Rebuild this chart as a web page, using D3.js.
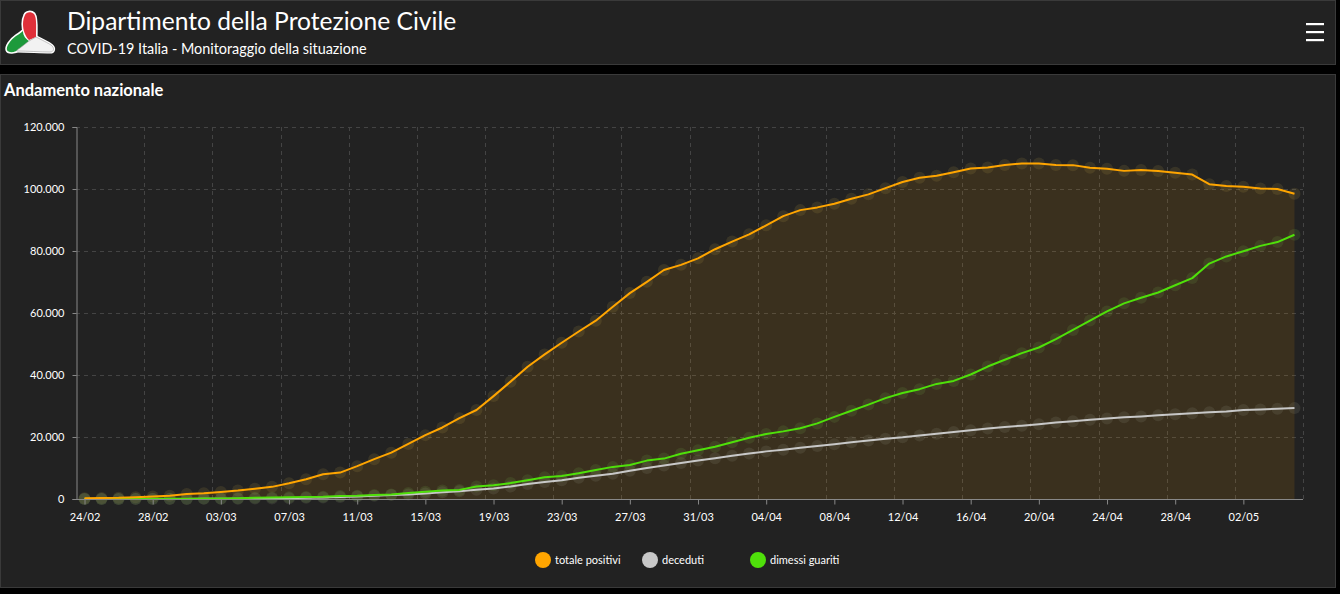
<!DOCTYPE html>
<html><head><meta charset="utf-8">
<script src="https://cdn.jsdelivr.net/npm/d3@7"></script>
<style>
html,body{margin:0;padding:0;background:#000;width:1340px;height:594px;overflow:hidden;font-family:Lato,"Open Sans",sans-serif;}
</style></head>
<body>
<svg id="c" width="1340" height="594"></svg>
<script>
const dates = ["24/02","25/02","26/02","27/02","28/02","29/02","01/03","02/03","03/03","04/03","05/03","06/03","07/03","08/03","09/03","10/03","11/03","12/03","13/03","14/03","15/03","16/03","17/03","18/03","19/03","20/03","21/03","22/03","23/03","24/03","25/03","26/03","27/03","28/03","29/03","30/03","31/03","01/04","02/04","03/04","04/04","05/04","06/04","07/04","08/04","09/04","10/04","11/04","12/04","13/04","14/04","15/04","16/04","17/04","18/04","19/04","20/04","21/04","22/04","23/04","24/04","25/04","26/04","27/04","28/04","29/04","30/04","01/05","02/05","03/05","04/05","05/05"];
const totalePositivi = [221,311,385,588,821,1049,1577,1835,2263,2706,3296,3916,5061,6387,7985,8514,10590,12839,14955,17750,20603,23073,26062,28710,33190,37860,42681,46638,50418,54030,57521,62013,66414,70065,73880,75528,77635,80572,83049,85388,88274,91246,93187,94067,95262,96877,98273,100269,102253,103616,104291,105418,106607,106962,107771,108257,108237,107709,107699,106848,106527,105847,106103,105813,105205,104657,101551,100943,100704,100179,99980,98467];
const deceduti = [7,10,12,17,21,29,34,52,79,107,148,197,233,366,463,631,827,1016,1266,1441,1809,2158,2503,2978,3405,4032,4825,5476,6077,6820,7503,8165,9134,10023,10779,11591,12428,13155,13915,14681,15362,15887,16523,17127,17669,18279,18849,19468,19899,20465,21067,21645,22170,22745,23227,23660,24114,24648,25085,25549,25969,26384,26644,26977,27359,27682,27967,28236,28710,28884,29079,29315];
const dimessiGuariti = [1,1,3,45,46,50,83,149,160,276,414,523,589,622,724,1004,1045,1258,1439,1966,2335,2749,2941,4025,4440,5129,6072,7024,7432,8326,9362,10361,10950,12384,13030,14620,15729,16847,18278,19758,20996,21815,22837,24392,26491,28470,30455,32534,34211,35435,37130,38092,40164,42727,44927,47055,48877,51600,54543,57576,60498,63120,64928,66624,68941,71252,75945,78249,79914,81654,82879,85231];
const yTicks = [0,20000,40000,60000,80000,100000,120000];
const seriesNames = ["totale positivi","deceduti","dimessi guariti"];
const seriesColors = ["#ffa500","#c8c8c8","#4fe00a"];

(function(){
const svg = d3.select("#c");
svg.append("rect").attr("x",0.5).attr("y",0.5).attr("width",1335).attr("height",64).attr("fill","#222").attr("stroke","#3a3a3a");
svg.append("rect").attr("x",0.5).attr("y",74.5).attr("width",1335).attr("height",513).attr("fill","#222").attr("stroke","#3a3a3a");

// logo
const logo = svg.append("g");
const redP = "M25,15 C26,12 31,11 34,14 C37,18 36,28 36,37 L29,40 C25,36 23,30 23,24 C23,20 24,17 25,15 Z";
const greenP = "M23,31 C23,36 26,39 29,41 L20,49 C15,53 8,53 7,50 C6,47 10,40 16,36 C19,34 21,33 23,31 Z";
const whiteP = "M29,41 L36,37 C42,40 48,43 51,45 C55,48 54,52 50,52 C40,52 28,51 17,51 C16,51 18,49 20,48 Z";
[redP,greenP,whiteP].forEach(p=>logo.append("path").attr("d",p).attr("fill","#fff").attr("stroke","#fff").attr("stroke-width",3.2).attr("stroke-linejoin","round"));
logo.append("path").attr("d",redP).attr("fill","#e0303a");
logo.append("path").attr("d",greenP).attr("fill","#1d9a3c");
logo.append("path").attr("d",whiteP).attr("fill","#f2f2f2").attr("stroke","#9a9a9a").attr("stroke-width",0.6);

svg.append("text").attr("x",67).attr("y",30).attr("fill","#fff").attr("font-size",24.6).attr("font-family","Lato, sans-serif").text("Dipartimento della Protezione Civile");
svg.append("text").attr("x",67).attr("y",54).attr("fill","#fff").attr("font-size",14.4).attr("font-family","Lato, sans-serif").text("COVID-19 Italia - Monitoraggio della situazione");
[24,32,40].forEach(yy=>svg.append("rect").attr("x",1306).attr("y",yy-1).attr("width",18).attr("height",2.2).attr("fill","#fff"));

svg.append("text").attr("x",4).attr("y",96).attr("fill","#fff").attr("font-size",16.5).attr("font-weight","bold").attr("font-family","Lato, sans-serif").text("Andamento nazionale");

const pL=76, pR=1303, pT=127, pB=499;
const x = d3.scaleBand().domain(dates).range([pL,pR]).padding(0);
const xc = d => x(d)+x.bandwidth()/2;
const y = d3.scaleLinear().domain([0,120000]).range([pB,pT]);
const loc = d3.formatLocale({decimal:",",thousands:".",grouping:[3],currency:["","€"]});
const fmt = loc.format(",");

const g = svg.append("g");
g.selectAll(".hg").data(yTicks.filter(t=>t>0)).join("line")
 .attr("x1",pL).attr("x2",pR).attr("y1",d=>y(d)+0.5).attr("y2",d=>y(d)+0.5)
 .attr("stroke","#444").attr("stroke-dasharray","4,4");
const gridDates = dates.filter((d,i)=>i%4===0 && i>0);
g.selectAll(".vg").data(gridDates).join("line")
 .attr("x1",d=>Math.round(x(d))+0.5).attr("x2",d=>Math.round(x(d))+0.5).attr("y1",pT).attr("y2",pB)
 .attr("stroke","#444").attr("stroke-dasharray","4,4");
g.append("line").attr("x1",pR+0.5).attr("x2",pR+0.5).attr("y1",pT).attr("y2",pB).attr("stroke","#444").attr("stroke-dasharray","4,4");

const area = d3.area().x((d,i)=>xc(dates[i])).y0(pB).y1(d=>y(d));
g.append("path").datum(totalePositivi).attr("d",area).attr("fill","#ffa500").attr("fill-opacity",0.11);

const yAxis = d3.axisLeft(y).tickValues(yTicks).tickFormat(fmt).tickSize(4).tickPadding(8);
const ya = svg.append("g").attr("transform",`translate(${pL+0.5},0)`).call(yAxis);
ya.select(".domain").attr("stroke","#888");
ya.selectAll(".tick line").attr("stroke","#888");
ya.selectAll("text").attr("fill","#fff").attr("font-size",11).attr("font-family","Lato, sans-serif");

const tickDates = dates.filter((d,i)=>i%4===0);
const xAxis = d3.axisBottom(d3.scalePoint().domain(dates).range([xc(dates[0]),xc(dates[dates.length-1])])).tickValues(tickDates).tickSize(5).tickPadding(9);
const xa = svg.append("g").attr("transform",`translate(0,${pB+0.5})`).call(xAxis);
xa.select(".domain").remove();
xa.append("line").attr("x1",pL).attr("x2",pR).attr("stroke","#888");
xa.selectAll(".tick line").attr("stroke","#888");
xa.selectAll("text").attr("fill","#fff").attr("font-size",11).attr("font-family","Lato, sans-serif");

const allSeries = [totalePositivi, deceduti, dimessiGuariti];
const line = d3.line().x((d,i)=>xc(dates[i])).y(d=>y(d));
allSeries.forEach((s,k)=>{
  g.append("g").selectAll("circle").data(s).join("circle")
   .attr("cx",(d,i)=>xc(dates[i])).attr("cy",d=>y(d)).attr("r",6)
   .attr("fill", k===0 ? "#a08a40" : (k===1 ? "#8a8a7a" : "#6a9a40")).attr("fill-opacity",0.18);
});
[1,2,0].forEach(k=>{
  g.append("path").datum(allSeries[k]).attr("d",line).attr("fill","none")
   .attr("stroke",seriesColors[k]).attr("stroke-width",2).attr("stroke-linejoin","round");
});

const legX = [543,650,758];
const leg = svg.append("g");
seriesNames.forEach((n,k)=>{
  leg.append("circle").attr("cx",legX[k]).attr("cy",560).attr("r",8).attr("fill",seriesColors[k]);
  leg.append("text").attr("x",legX[k]+12).attr("y",564).attr("fill","#fff").attr("font-size",11).attr("font-family","Lato, sans-serif").text(n);
});
})();
</script>
</body></html>
